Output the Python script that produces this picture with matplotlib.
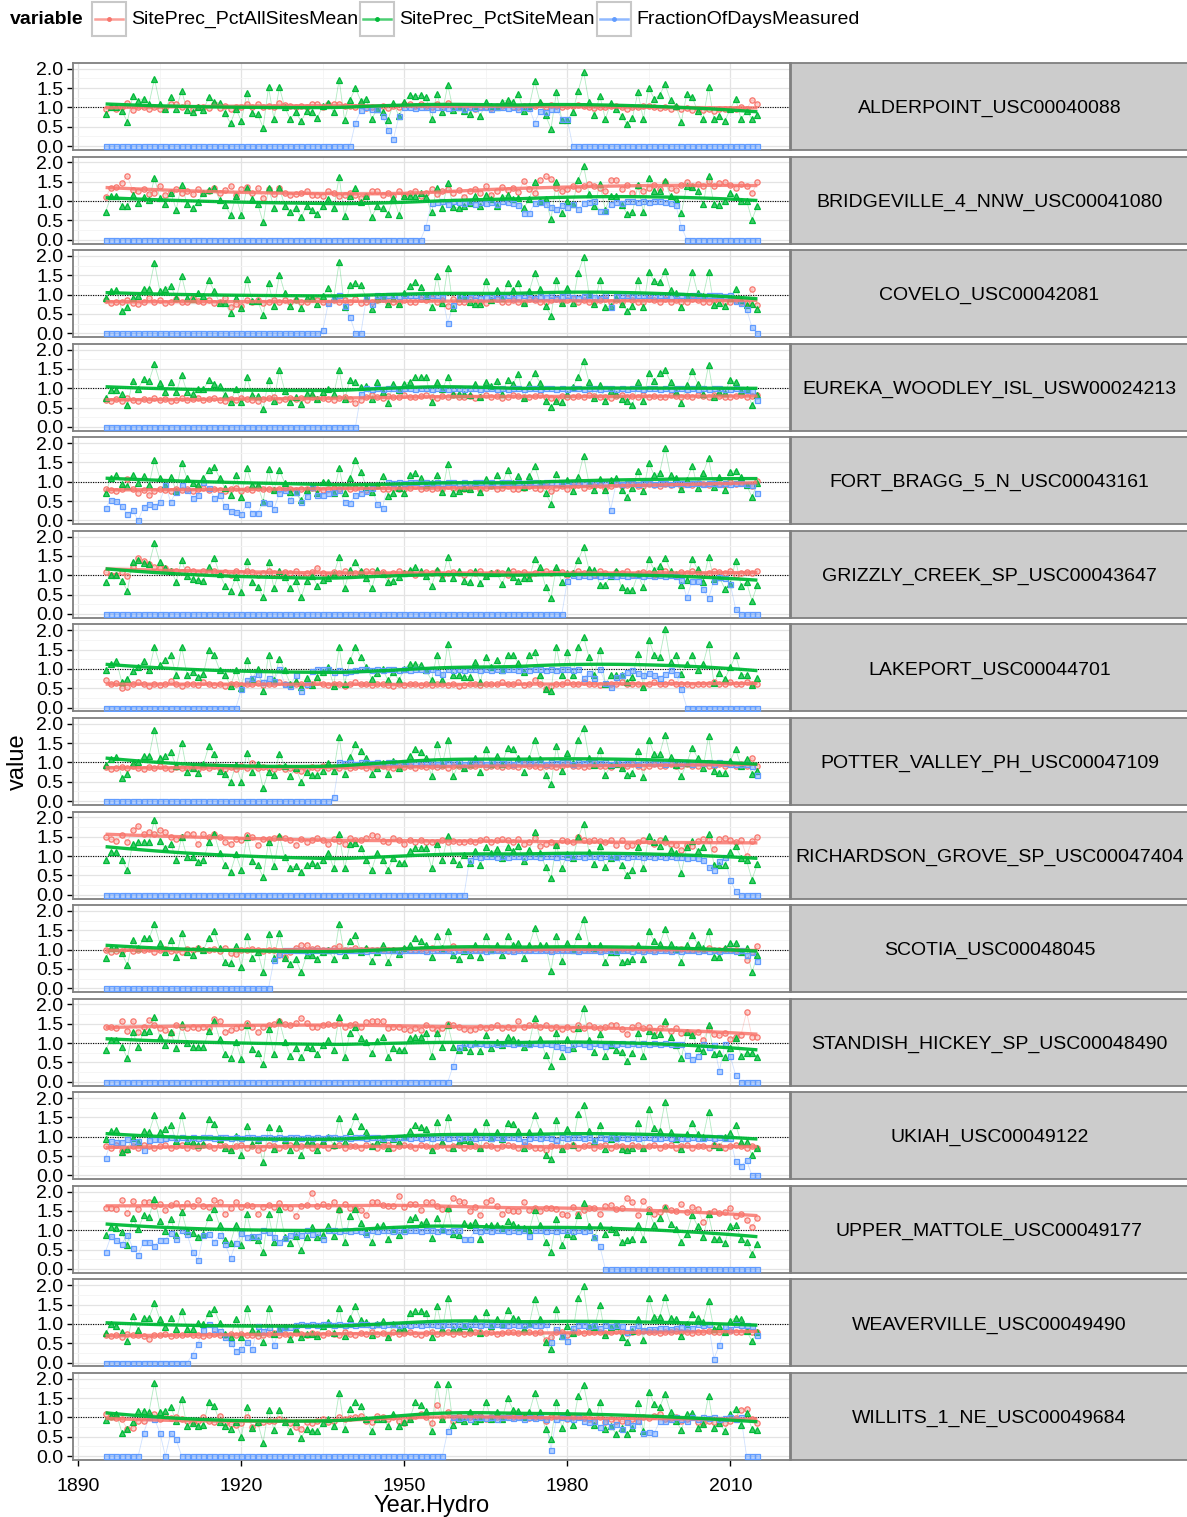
import numpy as np
import matplotlib
matplotlib.use("Agg")
import matplotlib.pyplot as plt
import matplotlib.colors as mcolors
from matplotlib.patches import Rectangle

plt.rcParams["font.family"] = ["Liberation Sans", "DejaVu Sans"]

years = list(range(1895, 2016))

stations = [
    "ALDERPOINT_USC00040088", "BRIDGEVILLE_4_NNW_USC00041080", "COVELO_USC00042081",
    "EUREKA_WOODLEY_ISL_USW00024213", "FORT_BRAGG_5_N_USC00043161", "GRIZZLY_CREEK_SP_USC00043647",
    "LAKEPORT_USC00044701", "POTTER_VALLEY_PH_USC00047109", "RICHARDSON_GROVE_SP_USC00047404",
    "SCOTIA_USC00048045", "STANDISH_HICKEY_SP_USC00048490", "UKIAH_USC00049122",
    "UPPER_MATTOLE_USC00049177", "WEAVERVILLE_USC00049490", "WILLITS_1_NE_USC00049684",
]
series_names = ["SitePrec_PctAllSitesMean", "SitePrec_PctSiteMean", "FractionOfDaysMeasured"]

# ---------------- ALDERPOINT ----------------
alderpoint_all = [0.97,1.00,0.97,1.02,1.12,0.93,1.02,1.00,0.95,1.01,
    0.97,0.99,1.08,1.08,1.01,1.12,0.97,1.02,1.00,0.98, 1.08,0.99,1.05,0.95,1.02,1.00,1.10,1.02,1.08,1.02,
    1.05,1.00,1.12,1.07,1.03,1.00,1.05,1.00,1.08,1.08, 1.02,1.10,1.08,1.10,1.05,1.04,1.00,1.10,0.98,1.00,
    0.95,1.05,0.98,1.05,1.00,1.10,1.10,1.05,1.10,1.03, 1.00,1.08,0.98,1.12,1.02,1.00,1.03,1.00,0.97,1.02,
    1.00,0.98,1.05,1.03,1.10,1.00,1.02,1.03,1.00,1.05, 1.08,1.02,1.07,1.03,1.00,1.05,1.05,1.06,1.05,1.02,
    0.98,1.02,1.00,1.03,1.05,1.00,0.95,1.02,1.00,1.03, 1.05,1.00,0.98,1.01,0.97,1.00,0.95,0.98,0.93,0.97,
    0.93,0.95,0.92,0.95,0.97,0.95,0.97,1.02,0.95,1.20, 1.10]
alderpoint_site = [0.83,1.00,1.02,0.91,0.63,1.29,1.17,1.23,1.10,1.74,
    1.09,0.97,1.26,0.97,1.43,0.94,0.87,1.02,0.94,1.26, 1.15,1.12,0.85,0.59,0.96,0.65,1.37,0.85,0.83,0.48,
    1.52,0.70,1.52,1.00,0.70,0.89,0.64,0.91,0.89,0.74, 1.04,1.11,0.87,1.72,0.67,1.20,1.50,1.17,1.23,0.70,
    0.97,0.87,0.68,1.11,0.77,1.15,1.32,1.30,1.32,1.26, 0.71,1.35,0.89,1.58,0.94,1.00,0.91,0.83,1.03,0.78,
    1.15,1.04,1.00,1.15,1.20,1.15,1.35,0.91,1.04,1.68, 1.13,0.80,0.45,1.39,0.68,0.68,0.89,1.43,1.93,1.13,
    0.80,1.30,0.70,1.11,0.97,0.77,0.57,0.74,1.39,0.70, 1.50,1.23,1.32,1.60,1.19,1.04,0.63,1.36,1.26,0.91,
    0.71,1.52,0.70,0.77,0.65,0.96,1.22,0.70,0.91,0.70, 0.80]
alderpoint_frac = [0,0,0,0,0,0,0,0,0,0, 0,0,0,0,0,0,0,0,0,0, 0,0,0,0,0,0,0,0,0,0,
    0,0,0,0,0,0,0,0,0,0, 0,0,0,0,0,0,0.61,0.93,1.0,0.97, 0.95,0.77,0.43,0.19,0.77,1.0,1.0,0.98,1.0,1.0,
    0.97,1.0,1.0,0.98,1.0,1.0,0.97,1.0,0.98,1.0, 1.0,0.97,1.0,1.0,0.98,1.0,0.97,1.0,0.98,0.61,
    0.91,0.89,0.96,0.97,0.70,0.70,0,0,0,0, 0,0,0,0,0,0,0,0,0,0, 0,0,0,0,0,0,0,0,0,0,
    0,0,0,0,0,0,0,0,0,0, 0]

# ---------------- BRIDGEVILLE ----------------
bridgeville_all = [1.10,1.34,1.36,1.47,1.65,1.28,1.25,1.32,1.18,1.22,
    1.38,1.15,1.24,1.32,1.22,1.26,1.17,1.30,1.20,1.25, 1.35,1.22,1.28,1.40,1.15,1.30,1.36,1.20,1.33,1.08,
    1.30,1.17,1.35,1.22,1.15,1.18,1.20,1.27,1.15,1.16, 1.13,1.25,1.22,1.12,1.16,1.22,1.15,1.08,1.13,1.25,
    1.25,1.16,1.20,1.13,1.25,1.15,1.20,1.27,1.14,1.22, 1.30,1.18,1.25,1.32,1.22,1.28,1.10,1.25,1.30,1.22,
    1.38,1.15,1.27,1.37,1.28,1.35,1.23,1.52,1.30,1.20, 1.55,1.64,1.58,1.35,1.25,1.30,1.40,1.32,1.38,1.45,
    1.40,1.35,1.25,1.55,1.55,1.30,1.42,1.20,1.38,1.25, 1.35,1.42,1.30,1.48,1.35,1.28,1.42,1.50,1.38,1.45,
    1.40,1.52,1.40,1.47,1.50,1.42,1.35,1.45,1.40,1.20, 1.48]
bridgeville_site = [0.72,1.12,1.14,0.88,0.86,1.15,0.95,1.10,1.03,1.59,
    1.08,0.93,1.22,0.78,1.42,0.92,0.82,0.97,1.20,1.28, 1.35,1.03,0.90,0.64,1.12,0.63,1.34,1.05,0.93,0.45,
    1.34,0.82,1.33,0.88,0.71,0.82,0.58,0.88,0.76,0.67, 0.86,1.05,0.82,1.62,0.62,1.12,1.35,0.97,1.12,0.60,
    0.86,0.82,0.67,1.09,0.65,1.12,1.12,1.14,1.22,1.10, 0.71,1.34,0.82,1.47,0.84,0.82,0.86,0.95,1.14,0.86,
    1.16,1.05,0.88,1.10,1.16,1.05,1.09,0.82,1.05,1.49, 1.01,1.05,0.53,1.49,0.69,1.01,0.92,1.55,1.91,1.18,
    0.86,1.44,0.78,1.14,1.14,0.91,0.67,0.71,1.41,0.71, 1.59,1.25,1.27,1.51,1.12,1.05,0.69,1.40,1.36,1.25,
    0.92,1.66,0.92,0.91,1.01,1.22,1.12,1.01,1.01,0.52, 0.88]
bridgeville_frac = [0,0,0,0,0,0,0,0,0,0, 0,0,0,0,0,0,0,0,0,0, 0,0,0,0,0,0,0,0,0,0,
    0,0,0,0,0,0,0,0,0,0, 0,0,0,0,0,0,0,0,0,0, 0,0,0,0,0,0,0,0,0,0.34,
    0.95,0.97,1.0,0.92,1.0,0.97,0.95,1.0,0.93,0.97, 0.95,0.97,0.92,1.0,0.97,0.95,0.90,0.69,0.69,0.95,
    0.97,0.92,0.85,0.80,0.90,0.85,0.92,0.80,0.95,0.97, 1.0,0.75,0.75,0.92,0.97,0.95,1.0,1.0,0.97,1.0,
    0.97,1.0,1.0,0.97,0.95,0.89,0.34,0,0,0, 0,0,0,0,0,0,0,0,0,0, 0]

# ---------------- COVELO ----------------
covelo_all = [0.85,0.78,0.80,0.82,0.85,0.78,0.75,0.82,0.90,0.80,
    0.85,0.78,0.80,0.88,0.82,0.80,0.90,0.83,0.80,0.85, 0.78,0.80,0.92,0.68,0.75,0.70,0.85,0.80,0.86,0.78,
    0.82,0.87,0.80,0.85,0.80,0.85,0.82,0.80,0.88,0.85, 0.80,0.78,0.86,0.82,0.85,0.80,0.88,0.78,0.82,0.80,
    0.85,0.88,0.80,0.82,0.78,0.85,0.82,0.80,0.88,0.85, 0.90,0.82,0.85,0.70,0.88,0.82,0.80,0.88,0.85,0.80,
    0.78,0.85,0.88,0.82,0.80,0.85,0.82,0.78,0.88,0.85, 0.82,0.80,0.85,0.88,0.82,0.85,0.90,0.82,0.85,0.80,
    0.82,0.85,0.88,0.80,0.85,0.82,0.90,0.85,0.82,0.80, 0.88,0.85,0.82,0.88,0.80,0.85,0.80,0.82,0.88,0.85,
    0.82,0.80,0.85,0.88,0.82,0.80,0.85,0.82,0.78,1.15, 0.72]
covelo_site = [0.90,1.09,1.13,0.58,0.68,0.90,0.97,1.15,1.15,1.83,
    1.09,1.15,1.23,0.90,1.48,0.91,0.89,1.04,0.97,1.37, 1.09,0.78,0.78,0.52,0.91,0.65,1.41,0.83,0.83,0.48,
    1.29,0.70,1.52,1.04,0.70,0.89,0.65,0.91,0.91,0.76, 0.96,1.17,0.91,1.84,0.67,1.24,1.30,1.24,0.91,0.63,
    0.89,0.96,0.77,0.91,0.77,1.04,1.22,1.32,1.20,0.96, 0.68,1.48,0.78,1.70,0.65,0.91,0.96,0.80,0.77,0.77,
    1.35,0.87,1.11,0.91,1.29,1.11,1.29,0.78,1.09,1.57, 1.15,0.70,0.45,1.37,0.78,1.17,0.78,1.57,1.97,1.02,
    0.77,1.37,0.68,0.71,0.91,0.77,0.58,0.70,1.39,0.67, 1.58,1.35,1.33,1.61,1.11,1.04,0.67,0.96,1.58,1.04,
    0.96,1.58,0.72,0.78,0.70,0.91,1.15,0.87,0.74,0.77, 0.63]
covelo_frac = [0,0,0,0,0,0,0,0,0,0, 0,0,0,0,0,0,0,0,0,0, 0,0,0,0,0,0,0,0,0,0,
    0,0,0,0,0,0,0,0,0,0, 0.09,0.78,0.90,1.0,0.70,0.42,0,0,0.91,0.77,
    1.0,0.91,1.0,1.0,0.97,1.0,0.98,1.0,0.97,1.0, 1.0,0.98,0.95,0.26,0.74,0.97,0.91,0.95,1.0,0.91,
    0.95,1.0,0.91,0.95,1.0,0.91,0.93,1.0,0.95,0.91, 0.97,0.93,0.98,0.91,0.97,1.0,0.93,0.91,0.97,1.0,
    0.93,0.91,1.0,0.67,0.97,1.0,0.98,0.97,1.0,0.98, 1.0,0.97,0.98,1.0,0.97,0.98,1.0,0.97,0.98,1.0,
    0.97,1.0,0.98,1.0,0.97,0.98,0.83,0.78,0.63,0.15, 0.0]

# ---------------- EUREKA ----------------
eureka_all = [0.70,0.68,0.72,0.66,0.75,0.70,0.68,0.72,0.70,0.74,
    0.70,0.72,0.66,0.70,0.74,0.70,0.72,0.75,0.70,0.72, 0.74,0.70,0.66,0.72,0.70,0.74,0.72,0.70,0.68,0.72,
    0.74,0.78,0.70,0.72,0.75,0.72,0.74,0.70,0.76,0.72, 0.75,0.72,0.70,0.74,0.76,0.72,0.62,0.70,0.78,0.82,
    0.78,0.75,0.80,0.76,0.78,0.82,0.78,0.76,0.80,0.82, 0.78,0.75,0.80,0.78,0.82,0.76,0.78,0.80,0.75,0.78,
    0.82,0.78,0.80,0.75,0.78,0.82,0.80,0.76,0.78,0.80, 0.82,0.78,0.75,0.72,0.80,0.78,0.76,0.80,0.78,0.82,
    0.80,0.76,0.78,0.75,0.80,0.82,0.78,0.80,0.76,0.82, 0.78,0.80,0.76,0.78,0.82,0.80,0.76,0.80,0.78,0.82,
    0.80,0.78,0.82,0.80,0.76,0.78,0.80,0.82,0.78,0.80, 0.82]
eureka_site = [0.75,0.95,0.95,0.84,0.56,1.18,0.99,1.24,1.19,1.62,
    1.14,0.91,1.16,0.89,1.34,0.89,0.86,0.99,0.97,1.21, 1.12,1.05,0.82,0.65,0.99,0.63,1.29,0.82,0.80,0.45,
    1.22,0.67,1.47,0.93,0.65,0.76,0.59,0.86,0.86,0.71, 0.91,0.99,0.86,1.47,0.71,1.22,1.16,1.02,1.05,0.71,
    1.16,0.91,0.62,1.12,0.95,1.12,1.16,1.28,1.29,1.29, 0.65,1.16,0.99,1.28,0.86,0.86,0.86,0.82,1.12,0.76,
    1.16,1.05,1.18,0.86,1.22,1.12,1.36,0.75,1.12,1.38, 1.14,0.67,0.52,0.66,0.64,0.86,1.03,1.29,1.70,1.16,
    0.75,1.08,0.67,0.93,0.86,0.73,0.67,0.56,1.16,0.67, 1.40,1.18,1.40,1.48,1.16,0.91,0.62,1.09,1.44,1.12,
    0.86,1.59,0.78,0.89,0.88,1.21,1.16,0.93,0.99,0.56, 0.82]
eureka_frac = [0,0,0,0,0,0,0,0,0,0, 0,0,0,0,0,0,0,0,0,0, 0,0,0,0,0,0,0,0,0,0,
    0,0,0,0,0,0,0,0,0,0, 0,0,0,0,0,0,0,0.84,1.0,0.98,
    1.0,0.98,1.0,1.0,0.97,1.0,1.0,0.98,1.0,1.0, 0.97,1.0,1.0,0.98,1.0,1.0,0.97,1.0,1.0,0.98,
    1.0,1.0,0.98,1.0,0.97,1.0,1.0,0.98,1.0,1.0, 0.98,1.0,1.0,0.97,1.0,0.98,1.0,1.0,0.97,1.0,
    1.0,0.98,1.0,1.0,0.97,1.0,0.98,1.0,1.0,0.97, 1.0,1.0,0.98,1.0,0.97,1.0,1.0,0.98,1.0,0.97,
    1.0,0.98,1.0,1.0,0.97,0.98,1.0,0.97,0.95,0.92, 0.70]

# ---------------- FORT BRAGG ----------------
fortbragg_all = [0.80,0.78,0.75,0.82,1.08,0.80,0.72,0.78,0.65,0.75,
    0.80,0.78,0.76,0.80,0.78,0.82,0.76,0.80,0.85,0.78, 0.82,0.78,0.75,0.80,0.84,0.76,0.80,0.78,0.85,0.82,
    0.80,0.78,0.82,0.84,0.80,0.78,0.82,0.80,0.85,0.82, 0.78,0.80,0.85,0.82,0.88,0.80,0.85,0.82,0.78,0.85,
    0.90,0.82,0.80,0.85,0.82,0.80,0.85,0.88,0.82,0.85, 0.80,0.85,0.82,0.88,0.85,0.82,0.80,0.85,0.88,0.82,
    0.85,0.90,0.82,0.85,0.88,0.82,0.80,0.85,0.90,0.85, 0.82,0.88,0.75,0.85,0.90,0.82,0.88,0.92,0.85,0.90,
    0.88,0.92,0.85,0.90,0.95,0.88,0.92,0.95,0.90,0.88, 0.95,0.92,0.90,0.95,0.92,0.98,0.90,0.95,0.92,0.98,
    0.95,0.92,0.98,0.95,0.92,1.00,0.95,0.98,0.92,0.88, 1.02]
fortbragg_site = [0.71,1.10,1.17,0.94,0.89,1.17,0.97,1.15,0.91,1.57,
    1.09,0.91,1.13,0.77,1.48,1.09,0.96,0.91,1.10,1.30, 1.39,1.09,0.83,0.65,1.17,0.61,1.35,0.91,0.91,0.48,
    1.32,0.78,1.30,0.97,0.74,0.74,0.52,0.78,0.87,0.70, 1.00,1.00,0.70,1.35,0.70,1.09,1.57,1.26,0.87,0.74,
    0.91,1.15,0.63,0.71,0.83,0.70,1.17,1.22,1.09,0.91, 0.96,1.17,0.74,1.46,0.71,0.77,0.83,0.80,0.96,0.74,
    1.06,0.91,1.17,0.94,1.30,0.96,1.15,0.87,1.15,1.41, 0.96,0.71,0.43,1.20,0.96,1.04,0.77,1.13,1.67,0.96,
    0.78,1.06,0.78,1.04,1.09,0.78,0.61,0.83,1.29,0.77, 1.48,1.17,1.23,1.87,1.17,1.09,0.80,1.04,1.42,0.83,
    1.23,1.61,0.87,1.13,0.78,1.26,1.29,1.13,0.91,0.61, 0.96]
fortbragg_frac = [0.33,0.54,0.50,0.37,0.16,0.26,0,0.35,0.42,0.37,
    0.48,0.91,0.48,0.74,0.91,0.78,0.59,0.65,1.0,0.83, 0.59,0.67,0.37,0.24,0.22,0.17,0.43,0.20,0.19,0.48,
    0.45,0.30,0.70,0.78,0.54,0.74,0.48,0.63,0.87,0.67, 0.67,0.70,0.74,0.78,0.48,0.45,0.67,0.71,0.77,0.85,
    0.42,0.33,1.0,0.98,1.0,0.97,1.0,1.0,0.98,1.0, 0.97,1.0,0.98,1.0,1.0,0.97,1.0,0.98,1.0,1.0,
    0.98,1.0,0.97,1.0,1.0,0.98,1.0,0.97,1.0,1.0, 0.98,1.0,1.0,0.97,1.0,0.98,1.0,1.0,0.97,1.0,
    0.98,1.0,0.97,0.28,0.97,0.95,0.98,0.97,0.95,0.98, 0.97,0.95,0.98,0.97,0.95,0.97,0.98,0.95,0.97,0.98,
    0.95,0.97,0.98,0.95,0.97,0.95,0.98,0.97,0.95,0.92, 0.70]

# ---------------- GRIZZLY CREEK ----------------
grizzly_all = [1.08,1.02,1.02,1.08,0.97,1.21,1.45,1.36,1.30,1.22,
    1.20,1.20,1.12,1.10,1.08,1.16,1.12,1.05,1.10,1.08, 1.12,1.05,1.08,1.02,1.10,1.05,1.12,1.08,1.02,1.05,
    1.10,1.05,1.02,1.08,1.05,1.12,1.02,1.05,1.08,1.20, 1.05,1.02,1.08,1.05,1.10,1.02,1.05,1.08,1.12,1.10,
    1.05,1.08,1.02,1.06,1.10,1.05,1.08,1.02,1.05,1.08, 1.05,1.10,1.02,1.05,1.08,1.05,1.02,1.08,1.05,1.10,
    1.02,1.05,1.08,1.05,1.02,1.10,1.05,1.08,1.02,1.05, 1.08,1.12,1.05,1.10,1.08,1.02,1.05,1.10,1.05,1.08,
    1.02,1.10,1.05,1.02,1.08,1.05,1.10,1.02,1.05,1.08, 1.05,1.02,1.08,1.10,1.05,1.02,1.08,1.05,1.10,1.08,
    1.02,1.05,1.10,1.08,1.05,1.12,1.02,1.05,1.08,1.05, 1.12]
grizzly_site = [0.82,1.02,1.02,0.86,0.60,1.34,1.40,1.31,1.29,1.83,
    1.34,1.18,1.12,0.84,1.40,0.97,0.91,0.88,0.86,1.21, 1.45,1.03,0.73,0.60,0.95,0.56,1.36,0.82,0.71,0.43,
    1.34,0.67,1.12,0.95,0.67,0.86,0.43,0.86,0.99,0.73, 0.88,0.93,1.03,1.47,0.67,1.14,1.34,1.12,0.93,0.67,
    1.14,1.03,0.82,0.86,0.95,1.05,1.14,1.21,1.12,0.99, 0.73,1.14,0.93,1.48,0.93,1.12,0.86,0.82,1.12,0.80,
    0.99,1.05,1.05,0.78,1.14,0.95,0.86,0.93,0.93,1.42, 1.21,0.71,0.41,1.22,0.82,1.05,1.05,1.40,1.72,1.16,
    1.14,0.76,0.76,0.99,1.12,0.69,0.62,0.62,1.03,0.69, 1.42,1.14,1.25,1.45,1.12,1.03,0.76,0.88,1.42,1.16,
    0.84,1.47,0.91,0.95,0.65,0.78,1.38,0.73,0.82,0.34, 0.76]
grizzly_frac = [0,0,0,0,0,0,0,0,0,0, 0,0,0,0,0,0,0,0,0,0, 0,0,0,0,0,0,0,0,0,0,
    0,0,0,0,0,0,0,0,0,0, 0,0,0,0,0,0,0,0,0,0, 0,0,0,0,0,0,0,0,0,0,
    0,0,0,0,0,0,0,0,0,0, 0,0,0,0,0,0,0,0,0,0, 0,0,0,0,0,0.86,1.0,0.98,1.0,0.97,
    1.0,0.98,1.0,1.0,0.97,1.0,0.98,1.0,1.0,0.97, 1.0,0.98,1.0,0.97,1.0,0.98,0.89,0.43,0.86,0.86,
    0.65,0.41,0.86,0.95,0.93,0.78,0.13,0,0,0, 0]

# ---------------- LAKEPORT ----------------
lakeport_all = [0.70,0.62,0.63,0.50,0.52,0.62,0.65,0.60,0.57,0.62,
    0.58,0.60,0.68,0.62,0.55,0.60,0.62,0.58,0.65,0.62, 0.58,0.60,0.55,0.62,0.60,0.58,0.62,0.60,0.64,0.58,
    0.62,0.60,0.65,0.62,0.58,0.60,0.62,0.58,0.60,0.65, 0.62,0.58,0.62,0.60,0.55,0.62,0.65,0.62,0.60,0.58,
    0.60,0.62,0.58,0.55,0.60,0.58,0.62,0.60,0.58,0.60, 0.58,0.60,0.62,0.58,0.60,0.55,0.58,0.60,0.62,0.58,
    0.60,0.62,0.60,0.65,0.62,0.60,0.65,0.58,0.60,0.72, 0.62,0.48,0.55,0.60,0.62,0.65,0.60,0.62,0.65,0.60,
    0.62,0.58,0.60,0.62,0.60,0.65,0.62,0.60,0.62,0.58, 0.62,0.65,0.62,0.60,0.65,0.62,0.60,0.62,0.58,0.62,
    0.60,0.62,0.65,0.60,0.62,0.65,0.62,0.60,0.65,0.62, 0.62]
lakeport_site = [0.98,1.13,1.20,0.65,0.74,0.94,1.06,1.20,0.96,1.57,
    1.10,1.23,1.35,0.84,1.57,0.84,0.93,0.80,0.87,1.50, 1.35,0.97,0.84,0.57,0.97,0.50,1.23,0.74,1.00,0.43,
    1.37,0.70,1.26,0.96,0.61,0.68,0.52,0.77,0.59,0.80, 0.91,1.04,0.57,1.57,0.61,1.22,1.57,1.30,1.06,0.74,
    0.89,1.00,0.70,0.91,0.71,1.00,1.13,1.13,1.11,0.96, 0.71,1.37,0.71,1.65,0.83,0.83,0.80,0.80,1.17,0.65,
    1.32,1.04,1.23,0.96,1.35,1.35,1.15,0.91,1.35,1.43, 0.85,0.48,0.42,1.57,0.83,1.43,0.83,1.57,1.83,1.30,
    0.83,1.50,0.61,0.83,0.83,0.83,0.65,0.80,1.39,0.54, 1.76,1.37,1.32,2.02,1.17,1.37,0.87,1.13,1.37,0.97,
    1.13,1.65,0.63,0.90,0.74,1.04,1.35,0.85,0.85,0.59, 0.77]
lakeport_frac = [0,0,0,0,0,0,0,0,0,0, 0,0,0,0,0,0,0,0,0,0,
    0,0,0,0,0,0.48,0.70,0.77,0.87,0.65, 0.77,0.68,1.0,0.61,0.57,0.83,0.43,0.61,0.94,1.0,
    1.0,1.0,0.91,0.96,0.91,0.94,0.97,1.0,1.0,0.98, 1.0,0.97,1.0,1.0,0.98,1.0,0.97,1.0,1.0,0.98,
    1.0,0.91,0.87,1.0,0.98,1.0,0.97,1.0,1.0,0.98, 1.0,0.97,1.0,0.98,1.0,1.0,0.97,1.0,0.98,1.0,
    1.0,0.97,1.0,0.98,1.0,1.0,0.97,1.0,0.77,0.89, 0.77,1.0,0.63,0.52,0.78,0.84,0.91,0.96,0.89,0.83,
    0.89,0.83,0.77,0.87,0.96,0.87,0.48,0,0,0, 0,0,0,0,0,0,0,0,0,0, 0]

# ---------------- POTTER VALLEY ----------------
potter_all = [0.88,0.82,0.85,0.88,0.86,0.90,0.85,0.84,0.88,0.85,
    0.90,0.86,0.84,0.88,0.86,0.85,0.88,0.84,0.88,0.85, 0.90,0.86,0.84,0.88,0.82,0.90,0.85,0.98,0.85,0.88,
    0.86,0.84,0.88,0.82,0.86,0.80,0.78,0.84,0.88,0.85, 0.90,0.86,0.88,0.85,0.92,0.86,0.88,0.90,0.86,0.88,
    0.90,0.92,0.88,0.86,0.90,0.88,0.92,0.86,0.90,0.88, 0.92,0.88,0.90,0.86,0.92,0.90,0.88,0.92,0.90,0.95,
    0.88,0.90,0.92,0.88,0.90,0.92,0.88,0.95,0.90,0.92, 0.88,0.92,0.90,0.88,0.92,0.95,0.90,0.92,0.88,0.92,
    0.95,0.90,0.92,0.88,0.95,0.92,0.90,0.95,0.92,0.88, 0.92,0.95,0.90,0.92,0.95,0.90,0.92,0.95,0.90,0.92,
    0.95,0.92,0.90,0.95,0.92,0.98,0.92,0.95,0.92,1.12, 0.90]
potter_site = [0.93,1.09,1.14,0.60,0.69,0.99,1.02,1.16,1.16,1.85,
    1.12,1.16,1.27,0.91,1.51,0.75,0.86,0.73,0.95,1.42, 1.22,0.78,0.69,0.50,0.93,0.50,1.25,0.76,0.97,0.34,
    0.76,0.67,1.22,0.91,0.65,0.86,0.50,0.76,0.67,0.67, 0.78,0.99,0.78,1.66,0.71,1.14,1.47,1.29,1.12,0.71,
    0.86,0.99,0.71,1.05,0.86,0.99,1.16,1.34,1.28,1.12, 0.65,1.47,0.95,1.59,0.65,0.95,0.86,0.97,1.12,0.76,
    1.34,0.95,1.16,0.97,1.38,1.34,1.12,0.76,1.12,1.59, 1.08,0.67,0.43,1.42,0.78,1.25,0.99,1.59,1.90,1.12,
    0.93,1.31,0.67,0.93,0.97,0.86,0.67,0.73,1.29,0.62, 1.59,1.22,1.22,1.72,1.14,0.93,0.65,0.99,1.38,1.12,
    0.86,1.68,0.78,0.73,0.73,1.05,1.34,0.91,1.10,0.71, 0.78]
potter_frac = [0,0,0,0,0,0,0,0,0,0, 0,0,0,0,0,0,0,0,0,0, 0,0,0,0,0,0,0,0,0,0,
    0,0,0,0,0,0,0,0,0,0, 0,0,0.10,1.0,0.98,1.0,0.97,1.0,1.0,0.98,
    1.0,0.97,1.0,1.0,0.98,1.0,0.97,1.0,0.98,1.0, 1.0,0.97,1.0,0.98,1.0,1.0,0.97,1.0,0.98,1.0,
    0.97,1.0,1.0,0.98,1.0,0.97,1.0,1.0,0.98,1.0, 1.0,0.97,1.0,0.98,1.0,1.0,0.97,1.0,0.98,1.0,
    1.0,0.98,1.0,0.97,1.0,1.0,0.98,1.0,0.97,1.0, 1.0,0.98,1.0,0.97,1.0,1.0,0.98,1.0,0.97,1.0,
    0.98,1.0,0.97,1.0,0.98,0.97,0.95,0.97,0.95,0.90, 0.67]

# ---------------- RICHARDSON GROVE ----------------
richardson_all = [1.48,1.43,1.39,1.55,1.37,1.67,1.78,1.57,1.63,1.57,
    1.67,1.61,1.48,1.43,1.50,1.57,1.58,1.30,1.57,1.48, 1.58,1.48,1.37,1.32,1.43,1.41,1.55,1.50,1.29,1.43,
    1.43,1.46,1.48,1.46,1.42,1.29,1.43,1.37,1.41,1.46, 1.41,1.32,1.43,1.39,1.32,1.46,1.41,1.41,1.46,1.55,
    1.52,1.39,1.35,1.46,1.41,1.32,1.41,1.37,1.41,1.36, 1.35,1.37,1.41,1.35,1.39,1.35,1.37,1.39,1.35,1.41,
    1.43,1.37,1.41,1.43,1.41,1.35,1.43,1.32,1.37,1.46, 1.26,1.32,1.37,1.29,1.41,1.39,1.37,1.48,1.41,1.39,
    1.41,1.39,1.37,1.41,1.29,1.41,1.26,1.29,1.35,1.41, 1.39,1.32,1.41,1.37,1.30,1.29,1.15,1.29,1.26,1.39,
    1.43,1.41,1.17,1.43,1.46,1.42,1.37,1.41,1.00,1.39, 1.50]
richardson_site = [0.90,1.10,1.10,0.90,0.63,1.32,1.35,1.37,1.36,1.93,
    1.39,1.20,1.32,0.91,1.48,0.97,0.97,0.85,0.91,1.36, 1.58,1.09,0.77,0.59,1.04,0.63,1.50,0.87,0.77,0.45,
    1.37,0.74,1.52,0.97,0.70,0.74,0.58,0.78,0.83,0.77, 0.91,1.09,0.68,1.57,0.68,1.30,1.33,1.22,0.89,0.65,
    1.09,0.89,0.65,0.96,0.83,0.83,1.13,1.22,1.22,1.22, 0.70,1.32,0.91,1.52,0.91,0.80,1.02,0.83,1.13,0.77,
    1.23,1.09,1.17,0.96,1.23,1.13,1.26,0.87,1.15,1.63, 1.09,0.71,0.42,1.29,0.68,1.06,0.94,1.48,1.84,1.11,
    0.80,1.26,0.71,0.96,1.00,0.77,0.50,0.65,1.23,0.68, 1.52,1.35,1.26,1.46,1.15,1.09,0.57,1.23,1.39,1.13,
    1.23,1.57,0.78,0.77,0.77,1.11,1.26,0.96,0.89,0.39, 0.80]
richardson_frac = [0,0,0,0,0,0,0,0,0,0, 0,0,0,0,0,0,0,0,0,0, 0,0,0,0,0,0,0,0,0,0,
    0,0,0,0,0,0,0,0,0,0, 0,0,0,0,0,0,0,0,0,0, 0,0,0,0,0,0,0,0,0,0,
    0,0,0,0,0,0,0,0.91,1.0,0.98, 1.0,1.0,0.97,1.0,0.98,1.0,1.0,0.97,1.0,1.0,
    0.98,1.0,1.0,0.97,1.0,0.98,1.0,1.0,0.97,1.0, 1.0,0.98,1.0,1.0,0.97,1.0,0.98,1.0,1.0,0.97,
    1.0,0.98,1.0,0.97,1.0,0.98,0.97,0.95,0.97,0.95, 0.89,0.71,0.65,0.87,0.97,0.37,0.10,0,0,0, 0]

# ---------------- SCOTIA ----------------
scotia_all = [0.98,0.95,0.97,0.96,1.05,0.97,1.00,0.98,1.02,0.95,
    1.00,1.02,0.97,1.00,0.95,1.02,0.98,1.05,1.00,0.98, 1.02,0.97,1.05,0.90,0.88,1.00,0.98,1.02,1.00,0.97,
    0.98,1.00,0.85,0.80,0.95,1.05,1.12,1.12,1.02,1.05, 1.00,0.98,1.03,1.10,1.00,0.98,1.05,1.00,1.02,0.98,
    1.00,1.02,0.98,1.00,0.97,1.02,1.00,0.98,1.02,1.00, 1.05,1.00,0.98,1.02,1.10,1.00,0.98,1.02,1.00,0.98,
    1.02,1.00,0.98,1.02,0.96,1.00,1.02,0.98,1.00,1.03, 1.02,0.98,1.00,1.02,0.98,1.00,1.02,0.98,1.00,1.02,
    0.98,1.00,1.02,1.00,0.98,1.02,1.00,1.05,1.00,0.98, 1.02,1.00,1.05,1.02,0.98,1.00,1.02,0.98,1.00,1.02,
    1.00,1.05,0.98,1.00,1.02,0.98,1.00,0.97,0.73,0.95, 1.10]
scotia_site = [0.79,1.03,1.05,0.91,0.59,1.25,1.03,1.29,1.29,1.66,
    1.16,0.93,1.25,0.82,1.42,0.95,0.86,1.03,0.99,1.29, 1.47,1.03,0.67,0.65,1.10,0.56,1.36,0.78,0.95,0.41,
    1.40,0.79,1.42,0.79,0.62,0.76,0.41,0.86,0.86,0.76, 0.95,0.99,0.76,1.66,0.86,1.21,1.38,0.95,1.03,0.71,
    0.95,1.12,0.67,0.99,0.88,1.03,1.12,1.31,1.21,1.12, 0.82,1.34,1.03,1.47,0.86,0.76,0.97,0.86,1.12,0.82,
    1.34,0.99,1.12,0.86,1.34,1.12,1.16,0.78,1.12,1.55, 1.12,1.12,0.45,1.34,0.71,1.16,0.99,1.36,1.78,1.12,
    1.03,1.12,0.67,0.95,0.95,0.67,0.71,0.76,1.12,0.76, 1.47,1.22,1.14,1.53,1.14,1.02,0.69,1.12,1.38,1.14,
    1.03,1.47,0.82,0.82,1.03,1.16,1.16,0.95,1.03,0.41, 0.86]
scotia_frac = [0,0,0,0,0,0,0,0,0,0, 0,0,0,0,0,0,0,0,0,0, 0,0,0,0,0,0,0,0,0,0,
    0,0.73,0.88,1.0,0.98,1.0,1.0,0.97,1.0,1.0, 0.98,1.0,1.0,0.97,1.0,1.0,0.98,1.0,0.97,1.0,
    1.0,0.98,1.0,1.0,0.97,1.0,0.98,1.0,1.0,0.97, 1.0,1.0,0.98,1.0,0.97,1.0,1.0,0.98,1.0,1.0,
    0.97,1.0,1.0,0.98,1.0,0.97,1.0,0.98,1.0,1.0, 0.98,1.0,0.97,1.0,1.0,0.98,1.0,0.97,1.0,0.98,
    1.0,0.97,0.98,1.0,0.97,0.98,1.0,0.97,0.98,0.97, 0.98,0.97,1.0,0.98,0.97,0.98,0.97,0.98,1.0,0.97,
    0.98,0.97,0.98,0.97,1.0,0.98,0.97,0.98,0.86,0.95, 0.70]

# ---------------- STANDISH HICKEY ----------------
standish_all = [1.42,1.42,1.39,1.58,1.32,1.58,1.29,1.43,1.59,1.48,
    1.39,1.35,1.26,1.48,1.43,1.39,1.43,1.39,1.43,1.39, 1.63,1.57,1.30,1.35,1.39,1.43,1.52,1.43,1.30,1.43,
    1.46,1.50,1.57,1.50,1.48,1.52,1.65,1.52,1.43,1.41, 1.48,1.50,1.46,1.52,1.43,1.46,1.50,1.43,1.55,1.57,
    1.57,1.57,1.39,1.41,1.43,1.37,1.35,1.39,1.35,1.48, 1.39,1.35,1.39,1.50,1.46,1.43,1.37,1.35,1.37,1.43,
    1.39,1.41,1.46,1.39,1.43,1.39,1.57,1.43,1.46,1.48, 1.43,1.48,1.39,1.41,1.37,1.43,1.37,1.46,1.39,1.46,
    1.41,1.39,1.43,1.48,1.46,1.37,1.23,1.43,1.46,1.39, 1.43,1.32,1.39,1.50,1.32,1.39,1.26,1.29,1.23,1.30,
    1.09,1.37,1.23,1.20,1.26,1.11,1.15,1.22,1.81,1.17, 1.17]
standish_site = [0.83,1.09,1.09,0.91,0.61,1.30,0.91,1.30,1.32,1.67,
    1.17,0.96,1.29,0.87,1.50,1.00,0.89,0.89,0.89,1.32, 1.57,1.11,0.71,0.61,1.04,0.59,1.46,0.85,0.74,0.45,
    1.37,0.71,1.57,1.04,0.68,0.87,0.63,0.89,0.87,0.71, 0.96,1.09,0.83,1.67,0.65,1.26,1.41,1.13,1.03,0.74,
    1.06,1.17,0.65,0.87,0.83,0.83,1.13,1.17,1.17,1.26, 0.68,1.26,0.89,1.48,0.91,0.83,0.89,0.80,1.00,0.80,
    1.20,0.87,1.04,0.96,1.17,1.11,1.04,0.91,1.00,1.65, 1.11,0.70,0.42,1.26,0.68,1.11,0.87,1.39,1.90,1.09,
    0.77,1.23,0.68,0.96,0.83,0.77,0.54,0.74,1.26,0.68, 1.32,1.20,1.23,1.58,1.15,0.96,0.61,1.29,1.22,0.87,
    0.80,1.46,0.71,0.74,0.65,0.87,1.13,0.68,0.74,0.74, 0.63]
standish_frac = [0,0,0,0,0,0,0,0,0,0, 0,0,0,0,0,0,0,0,0,0, 0,0,0,0,0,0,0,0,0,0,
    0,0,0,0,0,0,0,0,0,0, 0,0,0,0,0,0,0,0,0,0, 0,0,0,0,0,0,0,0,0,0,
    0,0,0,0,0.42,0.91,1.0,0.98,1.0,1.0, 0.97,1.0,0.98,1.0,1.0,0.97,1.0,1.0,0.98,1.0,
    0.97,1.0,0.98,0.92,0.89,0.85,0.97,1.0,0.98,0.92, 1.0,0.98,0.92,1.0,0.97,1.0,0.98,1.0,0.97,1.0,
    0.98,1.0,0.97,1.0,0.98,0.97,0.97,0.70,0.59,0.68, 0.97,0.89,0.95,0.28,0.97,0.67,0.17,0,0,0, 0]

# ---------------- UKIAH ----------------
ukiah_all = [0.75,0.72,0.78,0.62,0.66,0.75,0.72,0.78,0.75,0.70,
    0.75,0.78,0.72,0.75,0.78,0.72,0.75,0.70,0.78,0.75, 0.72,0.78,0.75,0.72,0.76,0.78,0.72,0.75,0.65,0.72,
    0.78,0.75,0.72,0.76,0.78,0.72,0.75,0.78,0.72,0.75, 0.78,0.72,0.75,0.78,0.72,0.76,0.75,0.72,0.78,0.75,
    0.72,0.76,0.78,0.72,0.75,0.78,0.75,0.72,0.78,0.75, 0.72,0.76,0.78,0.72,0.75,0.78,0.72,0.76,0.75,0.72,
    0.78,0.75,0.72,0.76,0.78,0.75,0.72,0.78,0.75,0.70, 0.72,0.65,0.75,0.78,0.72,0.75,0.78,0.72,0.75,0.78,
    0.72,0.75,0.78,0.72,0.76,0.75,0.72,0.78,0.75,0.72, 0.76,0.78,0.72,0.75,0.78,0.72,0.75,0.78,0.72,0.76,
    0.75,0.72,0.78,0.75,0.72,0.76,0.78,0.75,0.72,0.75, 0.72]
ukiah_site = [0.93,1.14,1.18,0.60,0.69,0.97,0.86,1.16,1.12,1.55,
    1.12,1.21,1.31,0.88,1.55,0.88,0.86,0.78,0.82,1.47, 1.34,0.95,0.71,0.65,1.03,0.52,1.27,0.82,0.91,0.34,
    1.25,0.67,1.22,0.91,0.65,0.86,0.52,0.84,0.86,0.65, 0.88,0.99,0.79,1.48,0.86,1.14,1.53,1.29,1.12,0.76,
    0.86,0.93,0.71,0.93,0.86,0.99,1.16,1.31,1.25,1.21, 0.65,1.38,0.86,1.51,0.71,0.86,0.91,0.88,1.16,0.71,
    1.38,0.97,1.12,0.95,1.36,1.34,1.16,0.71,1.12,1.55, 1.16,0.53,0.43,1.42,0.69,1.21,0.78,1.59,1.83,1.14,
    0.86,1.31,0.67,0.93,0.99,0.67,0.65,0.71,1.36,0.71, 1.72,1.22,1.16,1.91,1.12,0.93,0.67,1.08,1.36,1.08,
    0.99,1.64,0.78,0.73,0.99,1.10,1.31,0.86,0.86,0.52, 0.71]
ukiah_frac = [0.46,0.88,0.86,0.86,0.93,0.86,0.89,0.65,0.91,0.95,
    0.93,0.97,1.0,0.98,1.0,0.97,1.0,0.98,1.0,1.0, 0.97,1.0,1.0,0.98,1.0,0.97,1.0,1.0,0.98,1.0,
    1.0,0.97,1.0,0.98,1.0,1.0,0.97,1.0,0.98,1.0, 0.98,1.0,1.0,0.97,1.0,0.98,1.0,1.0,0.97,1.0,
    1.0,0.98,1.0,0.97,1.0,1.0,0.98,1.0,0.97,1.0, 0.98,1.0,1.0,0.97,1.0,0.98,1.0,1.0,0.97,1.0,
    1.0,0.98,1.0,0.97,1.0,1.0,0.98,0.90,0.97,1.0, 0.98,1.0,0.97,0.92,1.0,0.98,1.0,1.0,0.97,1.0,
    0.92,1.0,0.97,1.0,0.98,1.0,0.97,1.0,0.98,1.0, 1.0,0.97,0.98,1.0,0.97,1.0,0.98,0.97,1.0,0.98,
    0.98,1.0,0.97,1.0,0.98,0.97,0.36,0.24,0.39,0, 0]

# ---------------- UPPER MATTOLE ----------------
mattole_all = [1.58,1.58,1.55,1.78,1.46,1.76,1.55,1.74,1.72,1.63,
    1.67,1.52,1.65,1.70,1.61,1.70,1.63,1.78,1.63,1.61, 1.78,1.72,1.43,1.58,1.72,1.61,1.65,1.63,1.41,1.61,
    1.65,1.61,1.70,1.61,1.57,1.37,1.63,1.65,1.97,1.63, 1.67,1.63,1.72,1.52,1.67,1.58,1.58,1.52,1.39,1.72,
    1.74,1.65,1.63,1.63,1.90,1.61,1.67,1.67,1.52,1.72, 1.72,1.63,1.55,1.55,1.84,1.76,1.72,1.50,1.61,1.39,
    1.72,1.78,1.63,1.43,1.52,1.50,1.50,1.72,1.52,1.57, 1.50,1.57,1.57,1.55,1.41,1.39,1.61,1.43,1.52,1.57,
    1.58,1.41,1.63,1.65,1.55,1.57,1.84,1.72,1.39,1.76, 1.55,1.43,1.48,1.61,1.52,1.50,1.67,1.48,1.61,1.55,
    1.22,1.46,1.50,1.46,1.48,1.58,1.37,1.43,1.26,1.09, 1.32]
mattole_site = [0.87,1.09,1.06,0.96,0.63,1.32,1.03,1.39,1.35,1.81,
    1.23,0.97,1.30,0.87,1.48,0.97,0.94,0.83,0.91,1.35, 1.55,1.13,0.74,0.68,1.15,0.63,1.43,0.83,0.74,0.45,
    1.41,0.71,1.55,0.83,0.68,0.85,0.48,0.83,1.09,0.83, 0.89,1.11,0.85,1.55,0.71,1.37,1.55,1.20,0.96,0.71,
    1.11,1.15,0.77,1.04,0.89,1.03,1.29,1.35,1.17,1.23, 0.80,1.32,1.04,1.58,0.91,0.87,1.20,1.15,1.22,0.77,
    1.11,1.13,1.15,1.06,1.23,1.17,1.09,1.06,1.00,1.52, 1.13,0.71,0.45,1.29,0.63,0.91,0.85,1.39,1.70,1.11,
    0.83,1.15,0.91,1.04,0.96,0.70,0.74,0.77,1.15,0.78, 1.50,1.15,1.32,1.57,1.17,1.04,0.71,0.91,1.39,1.11,
    0.83,1.41,0.77,0.78,0.68,1.11,1.13,0.77,0.71,0.39, 0.65]
mattole_frac = [0.45,0.85,0.74,0.65,0.89,0.54,0.37,0.71,0.70,0.59,
    0.76,0.76,0.94,0.78,1.0,0.91,0.45,0.22,0.89,0.90, 0.70,0.89,0.65,0.28,0.68,0.94,0.83,0.85,0.85,1.0,
    0.96,0.83,0.70,0.81,0.87,0.96,0.87,1.0,0.91,0.96, 0.77,1.0,1.0,0.98,1.0,0.97,1.0,0.98,0.91,1.0,
    0.98,1.0,1.0,0.97,1.0,0.98,1.0,1.0,0.97,1.0, 1.0,0.98,1.0,0.97,1.0,1.0,0.78,0.78,1.0,0.98,
    1.0,0.97,1.0,1.0,0.98,1.0,0.97,1.0,0.85,1.0, 1.0,0.98,1.0,0.97,1.0,1.0,0.98,1.0,0.97,1.0,
    0.83,0.59,0,0,0,0,0,0,0,0, 0,0,0,0,0,0,0,0,0,0, 0,0,0,0,0,0,0,0,0,0, 0]

# ---------------- WEAVERVILLE ----------------
weaverville_all = [0.70,0.68,0.72,0.66,0.75,0.70,0.72,0.68,0.62,0.72,
    0.70,0.74,0.68,0.72,0.70,0.74,0.72,0.70,0.68,0.72, 0.74,0.70,0.72,0.75,0.70,0.74,0.72,0.70,0.68,0.72,
    0.74,0.76,0.72,0.74,0.70,0.76,0.74,0.72,0.76,0.74, 0.72,0.76,0.74,0.72,0.78,0.74,0.72,0.76,0.75,0.78,
    0.74,0.76,0.72,0.78,0.74,0.76,0.78,0.75,0.72,0.76, 0.78,0.74,0.76,0.78,0.75,0.78,0.74,0.76,0.78,0.80,
    0.76,0.78,0.74,0.76,0.80,0.78,0.76,0.80,0.78,0.76, 0.78,0.58,0.65,0.78,0.80,0.70,0.78,0.80,0.76,0.78,
    0.80,0.78,0.76,0.80,0.82,0.78,0.76,0.80,0.78,0.82, 0.80,0.78,0.76,0.80,0.78,0.82,0.80,0.78,0.76,0.80,
    0.78,0.82,0.80,0.78,0.80,0.82,0.78,0.80,0.82,0.78, 0.80]
weaverville_site = [0.76,0.99,0.95,0.78,0.56,1.21,0.84,1.16,1.16,1.53,
    1.12,0.91,1.16,0.88,1.34,0.88,0.86,1.03,0.99,1.28, 1.38,1.03,0.73,0.65,1.12,0.65,1.40,0.84,0.79,0.52,
    1.40,0.73,0.86,0.91,0.62,0.86,0.65,0.73,0.73,0.69, 0.95,1.05,0.76,1.42,0.69,1.14,1.47,1.10,1.05,0.71,
    0.99,1.08,0.67,0.99,0.86,0.88,1.29,1.34,1.34,1.29, 0.65,1.47,0.86,1.68,0.86,0.86,0.95,0.88,1.16,0.76,
    1.31,0.95,1.12,0.99,1.36,1.16,1.12,0.86,0.99,1.64, 1.12,0.52,0.34,1.38,0.69,0.95,0.76,1.68,1.97,0.95,
    0.91,1.48,0.71,0.91,0.95,0.67,0.52,0.82,1.12,0.59, 1.66,1.19,1.19,1.70,1.14,1.12,0.69,0.99,1.25,1.14,
    1.05,1.59,0.86,0.95,0.78,1.08,1.16,1.12,0.82,0.56, 0.78]
weaverville_frac = [0,0,0,0,0,0,0,0,0,0, 0,0,0,0,0,0,0.20,0.49,0.84,1.0,
    0.86,0.82,0.65,0.50,0.30,0.34,0.53,0.34,0.95,0.82, 0.93,0.46,0.86,0.91,0.93,0.97,1.0,0.98,1.0,0.97,
    1.0,1.0,0.98,1.0,0.97,1.0,0.98,1.0,1.0,0.97, 1.0,0.98,1.0,1.0,0.97,1.0,0.98,1.0,0.97,1.0,
    1.0,0.98,0.97,1.0,0.98,1.0,0.97,1.0,1.0,0.98, 1.0,0.97,1.0,0.98,0.97,1.0,0.98,0.97,1.0,0.98,
    0.97,1.0,0.53,0.86,0.69,0.56,0.90,0.98,0.97,0.95, 0.97,0.90,0.98,0.95,0.97,0.95,0.78,0.90,0.97,0.84,
    0.86,0.86,0.89,0.89,0.86,0.90,0.93,0.89,0.89,1.0, 0.97,1.0,0.10,0.45,0.95,0.86,1.0,0.97,0.98,0.95,
    0.70]

# ---------------- WILLITS ----------------
willits_all = [1.10,1.00,0.98,0.95,0.70,0.72,0.92,0.90,1.05,1.08,
    0.95,1.05,0.98,1.02,0.95,0.92,0.88,0.92,1.02,0.90, 0.88,1.05,0.85,0.82,0.80,0.85,1.02,0.75,0.85,0.88,
    0.90,0.92,0.95,0.90,0.85,0.75,0.70,0.88,0.85,0.90, 0.95,0.88,0.92,1.00,0.95,0.98,1.02,1.05,0.92,0.88,
    1.05,1.00,0.95,1.02,0.92,0.85,0.98,1.05,1.08,1.02, 0.85,1.32,0.98,1.15,0.90,1.05,0.98,1.02,1.00,1.05,
    0.95,1.00,1.02,0.98,1.05,1.00,1.02,1.00,0.98,1.02, 1.05,0.90,1.00,1.05,1.02,0.95,1.02,1.00,0.98,0.95,
    0.92,1.00,0.88,0.95,0.92,0.90,0.88,0.95,0.92,1.00, 0.98,1.05,1.10,0.95,0.98,1.00,0.92,0.95,1.02,0.88,
    0.85,0.92,0.88,0.90,0.85,0.92,0.98,1.20,1.23,0.95, 0.85]
willits_site = [0.94,1.04,1.09,0.61,0.70,0.89,1.17,1.17,1.15,1.90,
    1.13,1.17,1.26,0.91,1.48,0.77,0.85,0.78,0.80,1.41, 1.29,0.89,0.78,0.70,0.87,0.50,1.26,0.74,0.87,0.35,
    1.20,0.68,1.20,0.87,0.65,0.87,0.48,0.71,0.65,0.65, 0.85,0.97,0.77,1.63,0.71,1.22,1.39,1.29,0.97,0.65,
    0.96,0.97,0.77,1.09,0.77,0.87,0.97,1.39,1.32,1.17, 0.65,1.87,0.97,1.87,0.80,0.97,0.91,1.15,0.91,0.95,
    1.41,0.96,1.13,0.96,1.50,1.20,1.17,1.00,1.13,1.63, 1.13,0.71,0.43,1.41,0.74,1.13,0.80,1.55,1.84,1.17,
    0.80,1.39,0.71,0.78,0.57,0.74,0.57,0.72,1.37,0.65, 1.67,1.35,1.26,1.61,1.15,0.91,0.68,1.09,1.11,0.74,
    0.83,1.55,0.74,0.85,0.65,1.09,1.23,0.80,1.11,0.71, 0.68]
willits_frac = [0,0,0,0,0,0,0,0.60,1.0,0.97, 0.60,0,0.60,0.43,0,0,0,0,0,0,
    0,0,0,0,0,0,0,0,0,0, 0,0,0,0,0,0,0,0,0,0, 0,0,0,0,0,0,0,0,0,0, 0,0,0,0,0,0,0,0,0,0,
    0,0,0,0.66,1.0,0.98,1.0,0.97,1.0,1.0, 0.98,1.0,0.97,1.0,1.0,0.98,1.0,0.97,1.0,0.98,
    1.0,0.95,0.17,0.97,1.0,0.98,0.97,1.0,0.92,0.88, 0.92,0.75,0.90,0.78,0.82,0.70,0.88,0.80,0.92,0.61,
    0.62,0.59,0.90,0.92,0.95,1.0,0.97,0.92,1.0,0.97, 1.0,0.98,1.0,0.97,0.98,1.0,0.97,1.0,0,0, 0]

panel_data = [
    (alderpoint_all, alderpoint_site, alderpoint_frac),
    (bridgeville_all, bridgeville_site, bridgeville_frac),
    (covelo_all, covelo_site, covelo_frac),
    (eureka_all, eureka_site, eureka_frac),
    (fortbragg_all, fortbragg_site, fortbragg_frac),
    (grizzly_all, grizzly_site, grizzly_frac),
    (lakeport_all, lakeport_site, lakeport_frac),
    (potter_all, potter_site, potter_frac),
    (richardson_all, richardson_site, richardson_frac),
    (scotia_all, scotia_site, scotia_frac),
    (standish_all, standish_site, standish_frac),
    (ukiah_all, ukiah_site, ukiah_frac),
    (mattole_all, mattole_site, mattole_frac),
    (weaverville_all, weaverville_site, weaverville_frac),
    (willits_all, willits_site, willits_frac),
]

for name, group in zip(stations, panel_data):
    for s, vals in zip(series_names, group):
        if len(vals) != len(years):
            raise ValueError(f"{name} {s}: {len(vals)} values")

colors = ["#F8766D", "#00BA38", "#619CFF"]
markers = ["o", "^", "s"]
msizes = [3.8, 5.0, 3.6]
face_alpha = [0.3, 0.75, 0.45]


def loess(x, y, span=0.75, n=80):
    # local quadratic fit with tricube weights (like R's loess defaults)
    x = np.asarray(x, float)
    y = np.asarray(y, float)
    k = int(np.ceil(span * len(x)))
    xs = np.linspace(x.min(), x.max(), n)
    fit = []
    for x0 in xs:
        d = np.abs(x - x0)
        h = np.sort(d)[k - 1]
        w = np.clip(1 - (d / h) ** 3, 0, None) ** 3
        X = np.column_stack([np.ones_like(x), x - x0, (x - x0) ** 2])
        sw = np.sqrt(w)
        beta = np.linalg.lstsq(X * sw[:, None], y * sw, rcond=None)[0]
        fit.append(beta[0])
    return xs, np.array(fit)


W, H = 1187, 1517
fig = plt.figure(figsize=(W / 100, H / 100), dpi=100)


def px_axes(x0, y0, w, h):
    return fig.add_axes([x0 / W, 1 - (y0 + h) / H, w / W, h / H])


top0, step, ph = 63, 93.57, 87
for k, (name, group) in enumerate(zip(stations, panel_data)):
    top = top0 + k * step
    last = k == len(stations) - 1
    ax = px_axes(73, top, 717, ph)
    ax.set_xlim(1889, 2021)
    ax.set_ylim(-0.1, 2.15)
    ax.set_xticks([1890, 1920, 1950, 1980, 2010])
    ax.set_xticks([1905, 1935, 1965, 1995], minor=True)
    ax.set_yticks([0, 0.5, 1.0, 1.5, 2.0])
    ax.set_yticklabels(["0.0", "0.5", "1.0", "1.5", "2.0"])
    ax.set_yticks([0.25, 0.75, 1.25, 1.75], minor=True)
    ax.grid(which="major", color="#E3E3E3", lw=0.9)
    ax.grid(which="minor", color="#F4F4F4", lw=0.6)
    ax.set_axisbelow(True)
    ax.tick_params(which="minor", length=0)
    ax.tick_params(axis="y", length=4, width=1, pad=3, labelsize=14, colors="black")
    ax.tick_params(axis="x", length=4, width=1, pad=9, labelsize=14, colors="black",
                   labelbottom=last, bottom=last)
    for sp in ax.spines.values():
        sp.set_color("#7F7F7F")
        sp.set_linewidth(1.3)
    ax.axhline(1.0, color="black", lw=0.8, ls=(0, (1, 1.2)), zorder=2)

    for vals, c in zip(group, colors):
        ax.plot(years, vals, color=c, lw=0.6, alpha=0.3, zorder=3)
    for vals, c, m, ms, fa in zip(group, colors, markers, msizes, face_alpha):
        ax.plot(years, vals, ls="none", marker=m, ms=ms, mec=c, mew=0.9,
                mfc=mcolors.to_rgba(c, fa), zorder=4)
    for vals, c, a in zip(group[:2], colors[:2], [0.85, 0.95]):
        xs, ys = loess(years, vals)
        ax.plot(xs, ys, color=c, lw=2.4, alpha=a, zorder=5, solid_capstyle="butt")

    sax = px_axes(791, top, 397, ph)
    sax.set_facecolor("#CCCCCC")
    sax.set_xticks([])
    sax.set_yticks([])
    for sp in sax.spines.values():
        sp.set_color("#7F7F7F")
        sp.set_linewidth(1.3)
    sax.text(0.5, 0.5, name, transform=sax.transAxes, ha="center", va="center_baseline",
             fontsize=14, color="black")

fig.text(18 / W, 1 - 762 / H, "value", rotation=90, ha="center", va="center", fontsize=17)
fig.text(432 / W, 1 - 1506 / H, "Year.Hydro", ha="center", va="center", fontsize=17)

# legend strip
lax = fig.add_axes([0, 1 - 40 / H, 1, 40 / H])
lax.set_xlim(0, W)
lax.set_ylim(40, 0)
lax.axis("off")
lax.text(10, 19, "variable", fontsize=14, fontweight="bold", va="center", ha="left")
for x0, label, c in zip([92, 360, 597], series_names, colors):
    lax.add_patch(Rectangle((x0, 2), 34, 34, fc="white", ec="#C8C8C8", lw=1.5))
    lax.plot([x0 + 3, x0 + 31], [19, 19], color=c, lw=1.8, alpha=0.7)
    lax.plot([x0 + 17], [19], marker="o", color=c, ms=2.5)
    lax.text(x0 + 39, 19, label, fontsize=14, va="center", ha="left")

fig.savefig("out.png", dpi=100)
